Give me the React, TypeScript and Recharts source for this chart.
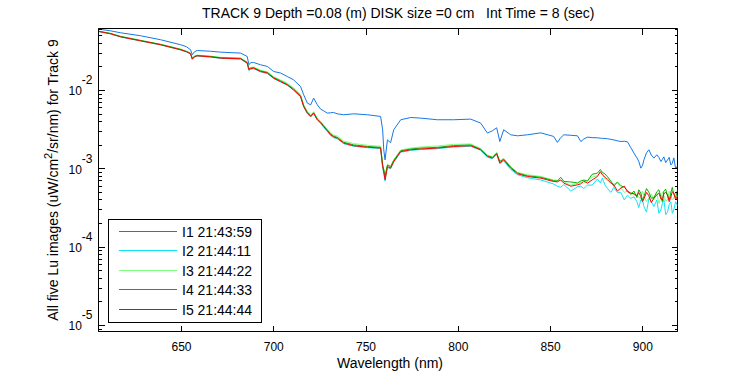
import React from 'react';
import { LineChart, Line, XAxis, YAxis, Legend, ReferenceArea } from 'recharts';

const FONT = "'Liberation Sans', Arial, Helvetica, sans-serif";

const wavelengths = [605.2, 611.5, 616.9, 627.8, 638.6, 649.5, 652.7, 654.9, 655.8, 657.0, 658.5, 665.7, 671.1, 682.0, 685.6, 686.5, 687.4, 689.0, 692.8, 696.5, 699.9, 703.7, 707.3, 710.7, 714.5, 716.2, 718.2, 720.0, 721.6, 723.6, 725.4, 727.0, 729.0, 730.8, 732.4, 734.4, 737.9, 743.3, 750.7, 757.9, 759.0, 759.6, 760.3, 761.6, 763.3, 765.0, 768.8, 774.2, 779.6, 788.7, 797.5, 806.7, 812.1, 815.8, 818.5, 820.8, 822.5, 824.6, 828.4, 832.1, 837.5, 844.7,
  851.7, 853.7, 855.5, 857.2, 861.0, 864.6, 866.4, 868.0, 870.0, 872.5, 875.4, 877.0, 878.1, 879.5, 880.9, 882.6, 884.3, 886.2, 888.1, 890.0, 891.7, 893.5, 895.2, 896.8, 897.8, 898.9, 899.8, 900.6, 902.0, 903.3, 904.6, 906.0, 907.6, 908.7, 909.8, 910.6, 911.4, 912.4, 913.4, 914.3, 915.2, 916.0, 916.8, 917.8, 918.8];

const i1 = [0.0608, 0.0578, 0.0546, 0.0500, 0.0445, 0.0384, 0.0362, 0.0331, 0.0286, 0.0312, 0.0324, 0.0317, 0.0309, 0.0300, 0.0272, 0.0213, 0.0226, 0.0228, 0.0213, 0.0203, 0.0175, 0.0167, 0.0151, 0.0137, 0.01125, 0.00881, 0.00690, 0.00656, 0.00800, 0.00656, 0.00578, 0.00551, 0.00514, 0.00519, 0.00524, 0.00504, 0.00490, 0.00504, 0.00490, 0.00466, 0.00315, 0.00175, 0.00130, 0.00234, 0.00215, 0.00315, 0.00423, 0.00452, 0.00444, 0.00423, 0.00423, 0.00431, 0.00384, 0.00286, 0.00306, 0.00334, 0.00223, 0.00315, 0.00272, 0.00264, 0.00272, 0.00288,
  0.00259, 0.00217, 0.00250, 0.00272, 0.00268, 0.00264, 0.00223, 0.00240, 0.00254, 0.00250, 0.00249, 0.00246, 0.00245, 0.00244, 0.00242, 0.00238, 0.00234, 0.00228, 0.00223, 0.00225, 0.00221, 0.00186, 0.00159, 0.00138, 0.00125, 0.00102, 0.00110, 0.00130, 0.00160, 0.00175, 0.00150, 0.00137, 0.00151, 0.00140, 0.00124, 0.00132, 0.00142, 0.00120, 0.00130, 0.00140, 0.00112, 0.00118, 0.00138, 0.00100, 0.00109];

const i2 = [0.0565, 0.0528, 0.0483, 0.0429, 0.0382, 0.0329, 0.0310, 0.0292, 0.0248, 0.0266, 0.0275, 0.0267, 0.0257, 0.0252, 0.0222, 0.0180, 0.0186, 0.0191, 0.0173, 0.0165, 0.0142, 0.0128, 0.0117, 0.0101, 0.00830, 0.00618, 0.00505, 0.00460, 0.00505, 0.00418, 0.00382, 0.00340, 0.00300, 0.00265, 0.00250, 0.00242, 0.00209, 0.00194, 0.00186, 0.00181, 0.00104, 0.00088, 0.00070, 0.00104, 0.00100, 0.00121, 0.00163, 0.00172, 0.00176, 0.00181, 0.00190, 0.00194, 0.00172, 0.00141, 0.00134, 0.00153, 0.00116, 0.00127, 0.00098, 0.000840, 0.000770, 0.000720,
  0.00064, 0.00060, 0.00058, 0.00063, 0.00052, 0.00059, 0.00060, 0.00056, 0.00062, 0.00062, 0.00074, 0.00066, 0.00076, 0.00062, 0.00056, 0.00050, 0.00058, 0.00050, 0.00050, 0.00040, 0.00046, 0.00042, 0.00044, 0.00038, 0.00032, 0.00040, 0.00040, 0.00033, 0.00028, 0.00042, 0.00038, 0.00033, 0.00040, 0.00027, 0.00030, 0.00036, 0.00041, 0.00026, 0.00028, 0.00035, 0.00038, 0.00027, 0.00030, 0.00038, 0.00034];

const i3 = [0.0572, 0.0538, 0.0492, 0.0438, 0.0390, 0.0338, 0.0318, 0.0300, 0.0262, 0.0275, 0.0283, 0.0275, 0.0265, 0.0260, 0.0232, 0.0192, 0.0196, 0.0200, 0.0182, 0.0173, 0.0150, 0.0136, 0.0124, 0.0108, 0.00885, 0.00660, 0.00540, 0.00490, 0.00535, 0.00445, 0.00405, 0.00365, 0.00322, 0.00288, 0.00270, 0.00262, 0.00226, 0.00210, 0.00200, 0.00194, 0.00115, 0.00100, 0.00082, 0.00114, 0.00108, 0.00131, 0.00174, 0.00184, 0.00190, 0.00196, 0.00205, 0.00208, 0.00182, 0.00150, 0.00142, 0.00162, 0.00126, 0.00136, 0.00107, 0.000900, 0.000840, 0.000800,
  0.00072, 0.00071, 0.00072, 0.00068, 0.00062, 0.00065, 0.00067, 0.00066, 0.00068, 0.00078, 0.00082, 0.00090, 0.00087, 0.00074, 0.00075, 0.00068, 0.00064, 0.00066, 0.00058, 0.00050, 0.00052, 0.00050, 0.00046, 0.00047, 0.00043, 0.00042, 0.00052, 0.00045, 0.00038, 0.00043, 0.00048, 0.00040, 0.00048, 0.00036, 0.00043, 0.00050, 0.00046, 0.00039, 0.00040, 0.00052, 0.00046, 0.00040, 0.00042, 0.00050, 0.00044];

const i4 = [0.0570, 0.0535, 0.0490, 0.0435, 0.0388, 0.0335, 0.0315, 0.0298, 0.0258, 0.0272, 0.0280, 0.0272, 0.0262, 0.0257, 0.0228, 0.0190, 0.0193, 0.0196, 0.0178, 0.0170, 0.0147, 0.0133, 0.0120, 0.0105, 0.00860, 0.00640, 0.00525, 0.00475, 0.00520, 0.00430, 0.00395, 0.00355, 0.00312, 0.00278, 0.00262, 0.00252, 0.00218, 0.00202, 0.00193, 0.00188, 0.00112, 0.00098, 0.00080, 0.00112, 0.00106, 0.00128, 0.00170, 0.00179, 0.00184, 0.00188, 0.00198, 0.00202, 0.00178, 0.00147, 0.00140, 0.00158, 0.00124, 0.00133, 0.00105, 0.000885, 0.000815, 0.000780,
  0.000705, 0.00070, 0.00078, 0.00069, 0.00068, 0.00066, 0.00070, 0.00072, 0.00070, 0.00085, 0.00088, 0.00098, 0.00090, 0.00086, 0.00079, 0.00070, 0.00060, 0.00068, 0.00061, 0.00058, 0.00053, 0.00047, 0.00052, 0.00043, 0.00054, 0.00049, 0.00040, 0.00044, 0.00056, 0.00050, 0.00042, 0.00043, 0.00051, 0.00054, 0.00044, 0.00038, 0.00052, 0.00055, 0.00045, 0.00040, 0.00050, 0.00058, 0.00047, 0.00043, 0.00054];

const i5 = [0.0567, 0.0530, 0.0485, 0.0431, 0.0384, 0.0331, 0.0312, 0.0294, 0.0252, 0.0269, 0.0277, 0.0269, 0.0259, 0.0254, 0.0224, 0.0184, 0.0189, 0.0193, 0.0175, 0.0167, 0.0144, 0.0130, 0.0118, 0.0102, 0.00838, 0.00625, 0.00514, 0.00466, 0.00514, 0.00423, 0.00387, 0.00347, 0.00306, 0.00272, 0.00256, 0.00247, 0.00213, 0.00197, 0.00189, 0.00184, 0.00107, 0.000916, 0.000724, 0.00107, 0.00102, 0.00124, 0.00166, 0.00175, 0.00179, 0.00184, 0.00193, 0.00197, 0.00175, 0.00144, 0.00137, 0.00156, 0.00119, 0.00130, 0.00102, 0.000863, 0.000798, 0.000760,
  0.000688, 0.000682, 0.000720, 0.000656, 0.000600, 0.000625, 0.000643, 0.000700, 0.000656, 0.000720, 0.000798, 0.000920, 0.000838, 0.000780, 0.000724, 0.000660, 0.000625, 0.000520, 0.000567, 0.000600, 0.000508, 0.000489, 0.000480, 0.000452, 0.000500, 0.000443, 0.000380, 0.000414, 0.000500, 0.000452, 0.000370, 0.000423, 0.000466, 0.000490, 0.000414, 0.000400, 0.000480, 0.000500, 0.000466, 0.000380, 0.000439, 0.000510, 0.000494, 0.000400, 0.000452];

const seriesKeys = ['i1', 'i2', 'i3', 'i4', 'i5'];
const seriesNames = ['I1 21:43:59', 'I2 21:44:11', 'I3 21:44:22', 'I4 21:44:33', 'I5 21:44:44'];
const seriesColors = ['#1478e6', '#10e4f4', '#80ff80', '#00b400', '#ff0000'];
const seriesValues = [i1, i2, i3, i4, i5];

const xTicks = [650, 700, 750, 800, 850, 900];
const yMajorExponents = [-5, -4, -3, -2];

const titleText = 'TRACK 9 Depth =0.08 (m) DISK size =0 cm   Int Time = 8 (sec)';
const xLabelText = 'Wavelength (nm)';

const X_DOMAIN: [number, number] = [605, 918.8];
const Y_DOMAIN: [number, number] = [Math.pow(10, -5.077), Math.pow(10, -1.2085)];

const PLOT_W = 579;
const PLOT_H = 303;
const Y_AXIS_W = 60;
const X_AXIS_H = 30;

const tableData = wavelengths.map((wl, idx) => {
  const row: Record<string, number> = { wl };
  seriesKeys.forEach((k, s) => {
    row[k] = seriesValues[s][idx];
  });
  return row;
});

const yTicks: number[] = [];
for (let e = -6; e <= -1; e++) {
  for (let m = 1; m <= 9; m++) {
    const v = m * Math.pow(10, e);
    if (v >= Y_DOMAIN[0] && v <= Y_DOMAIN[1]) yTicks.push(v);
  }
}

const YTick = (props: any) => {
  const { x, y, payload } = props;
  const v = payload.value;
  const lg = Math.log10(v);
  const e = Math.round(lg);
  const isMajor = Math.abs(lg - e) < 1e-6 && yMajorExponents.includes(e);
  const len = isMajor ? 6 : 3;
  const yy = Math.round(y - 0.5) + 0.5;
  return (
    <g>
      <line x1={x} x2={x + len} y1={yy} y2={yy} stroke="#000" strokeWidth={1} shapeRendering="crispEdges" />
      <line x1={x + PLOT_W} x2={x + PLOT_W - len} y1={yy} y2={yy} stroke="#000" strokeWidth={1} shapeRendering="crispEdges" />
      {isMajor && (
        <text x={x - 6} y={y + 5} textAnchor="end" fontSize={12} fontFamily={FONT} fill="#000">
          <tspan>10</tspan>
          <tspan dy={-11}>{String(e)}</tspan>
        </text>
      )}
    </g>
  );
};

const XTick = (props: any) => {
  const { x, y, payload } = props;
  const xx = Math.round(x - 0.5) + 0.5;
  return (
    <g>
      <line x1={xx} x2={xx} y1={y} y2={y - 6} stroke="#000" strokeWidth={1} shapeRendering="crispEdges" />
      <line x1={xx} x2={xx} y1={y - PLOT_H} y2={y - PLOT_H + 6} stroke="#000" strokeWidth={1} shapeRendering="crispEdges" />
      <text x={x} y={y + 19} textAnchor="middle" fontSize={12} fontFamily={FONT} fill="#000">
        {String(payload.value)}
      </text>
    </g>
  );
};

const XLabel = (props: any) => {
  const vb = props.viewBox || { x: 98.5, width: PLOT_W, y: 331.5 };
  return (
    <text x={vb.x + vb.width / 2 + 2} y={368} textAnchor="middle" fontSize={14} fontFamily={FONT} fill="#000">
      {xLabelText}
    </text>
  );
};

const YLabel = () => {
  const cy = 28.5 + PLOT_H / 2;
  return (
    <text x={58} y={cy} transform={`rotate(-90 58 ${cy})`} textAnchor="middle" fontSize={14} fontFamily={FONT} fill="#000">
      <tspan>All five Lu images (uW/cm</tspan>
      <tspan dy={-6} fontSize={11}>2</tspan>
      <tspan dy={6}>/sr/nm) for Track 9</tspan>
    </text>
  );
};

const LegendBox = () => (
  <svg width={155} height={105} style={{ display: 'block' }}>
    <rect x={0.5} y={0.5} width={153} height={103} fill="#fff" stroke="#000" strokeWidth={1} />
    {seriesNames.map((name, i) => {
      const cy = Math.round(12 + 19.4 * i) + 0.5;
      return (
        <g key={name}>
          <line x1={11} x2={69} y1={cy} y2={cy} stroke={seriesColors[i]} strokeWidth={1} />
          <text x={74} y={cy + 5} fontSize={14} fontFamily={FONT} fill="#000">
            {name}
          </text>
        </g>
      );
    })}
  </svg>
);

export default function App() {
  return (
    <div style={{ position: 'absolute', left: 0, top: 0, width: 750, height: 375, background: '#fff' }}>
      <LineChart
        width={750}
        height={375}
        data={tableData}
        margin={{ top: 28.5, right: 72.5, bottom: 43.5 - X_AXIS_H, left: 98.5 - Y_AXIS_W }}
      >
        <XAxis
          dataKey="wl"
          type="number"
          domain={X_DOMAIN}
          allowDataOverflow
          ticks={xTicks}
          interval={0}
          height={X_AXIS_H}
          tickSize={0}
          tickMargin={0}
          tickLine={false}
          tick={<XTick />}
          axisLine={{ stroke: '#000', strokeWidth: 1 }}
          label={<XLabel />}
        />
        <YAxis
          type="number"
          scale="log"
          domain={Y_DOMAIN}
          allowDataOverflow
          ticks={yTicks}
          interval={0}
          width={Y_AXIS_W}
          tickSize={0}
          tickMargin={0}
          tickLine={false}
          tick={<YTick />}
          axisLine={{ stroke: '#000', strokeWidth: 1 }}
          label={<YLabel />}
        />
        <ReferenceArea
          x1={X_DOMAIN[0]}
          x2={X_DOMAIN[1]}
          y1={Y_DOMAIN[0]}
          y2={Y_DOMAIN[1]}
          fill="none"
          stroke="#000"
          strokeWidth={1}
          ifOverflow="visible"
        />
        {seriesKeys.map((k, i) => (
          <Line
            key={k}
            dataKey={k}
            name={seriesNames[i]}
            type="linear"
            stroke={seriesColors[i]}
            strokeWidth={1}
            dot={false}
            activeDot={false}
            isAnimationActive={false}
          />
        ))}
        <Legend
          layout="vertical"
          align="center"
          verticalAlign="middle"
          content={<LegendBox />}
          wrapperStyle={{ left: 108, top: 219, width: 155, height: 105 }}
        />
      </LineChart>
      <svg
        width={750}
        height={30}
        style={{ position: 'absolute', left: 0, top: 0, pointerEvents: 'none' }}
      >
        <text x={202} y={18} fontSize={14} fontFamily={FONT} fill="#000" style={{ whiteSpace: 'pre' }} xmlSpace="preserve">
          {titleText}
        </text>
      </svg>
    </div>
  );
}
